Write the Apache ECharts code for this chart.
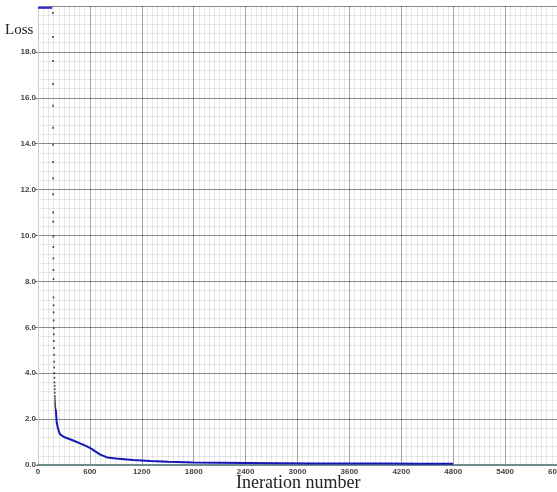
<!DOCTYPE html>
<html>
<head>
<meta charset="utf-8">
<script src="https://cdn.jsdelivr.net/npm/echarts@6/dist/echarts.min.js"></script>
<style>
    html, body { margin: 0; padding: 0; background: #fff; }
    #myChart { width: 557px; height: 492px; }
</style>
</head>
<body>
<div id="myChart"></div>
<script>
// clipped part at the start (loss above the top of the plot)
var topIter = [0, 165];
var topLoss = [19.92, 19.92];

// steep drop, drawn as sparse dots
var dropIter = [172, 172, 173, 173, 173, 174, 174, 174, 175, 175, 176, 176, 177, 177, 178, 178, 179, 179, 180, 180, 181, 182, 183, 184, 185, 186, 187, 188, 189, 190, 191, 192, 193, 194, 195, 196, 197, 198, 199, 200, 202, 204];
var dropLoss = [19.7, 18.65, 17.6, 16.6, 15.65, 14.7, 13.95, 13.2, 12.5, 11.8, 11.0, 10.6, 9.96, 9.5, 9.0, 8.5, 8.1, 7.3, 6.96, 6.65, 6.3, 5.96, 5.7, 5.4, 5.1, 4.8, 4.5, 4.25, 4.0, 3.8, 3.6, 3.45, 3.3, 3.15, 3.0, 2.9, 2.8, 2.7, 2.62, 2.55, 2.48, 2.42];

// main curve
var lossIter = [206, 215, 230, 245, 260, 300, 400, 500, 560, 620, 680, 720, 800, 900, 1000, 1100, 1300, 1500, 1800, 2100, 2400, 2800, 3200, 3600, 4000, 4400, 4800];
var lossVal = [2.4, 1.9, 1.6, 1.42, 1.32, 1.22, 1.08, 0.92, 0.82, 0.7, 0.55, 0.45, 0.33, 0.28, 0.25, 0.22, 0.17, 0.14, 0.11, 0.1, 0.09, 0.08, 0.07, 0.065, 0.06, 0.055, 0.05];

function pairs(xs, ys) {
    var out = [];
    for (var i = 0; i < xs.length; i++) {
        out.push([xs[i], ys[i]]);
    }
    return out;
}

var myChart = echarts.init(document.getElementById('myChart'));

var labelFont = {
    color: '#444',
    fontSize: 8,
    fontWeight: 'bold',
    fontFamily: 'Liberation Sans'
};

var option = {
    animation: false,
    backgroundColor: '#fff',
    grid: {
        left: 38,
        right: 0,
        top: 6,
        bottom: 27,
        outerBoundsMode: 'none',
        containLabel: false
    },
    xAxis: {
        type: 'value',
        min: 0,
        max: 6000,
        interval: 600,
        axisLine: {show: true, lineStyle: {color: '#6f8c8c', width: 2}},
        axisTick: {show: false},
        axisLabel: Object.assign({
            margin: 3,
            formatter: function (v) { return String(v); }
        }, labelFont),
        splitLine: {show: true, lineStyle: {color: 'rgba(0,0,0,0.35)', width: 1}},
        minorTick: {show: false, splitNumber: 10},
        minorSplitLine: {show: true, lineStyle: {color: 'rgba(0,0,0,0.09)', width: 1}}
    },
    yAxis: {
        type: 'value',
        min: 0,
        max: 20,
        interval: 2,
        axisLine: {show: true, lineStyle: {color: '#cfcfcf'}},
        axisTick: {show: true, length: 3, lineStyle: {color: '#777'}},
        axisLabel: Object.assign({
            margin: 2,
            showMaxLabel: false,
            formatter: function (v) { return v.toFixed(1); }
        }, labelFont),
        splitLine: {show: true, lineStyle: {color: 'rgba(0,0,0,0.45)', width: 1}},
        minorTick: {show: false, splitNumber: 5},
        minorSplitLine: {show: true, lineStyle: {color: 'rgba(0,0,0,0.09)', width: 1}}
    },
    graphic: [
        {
            type: 'text',
            left: 5,
            top: 23,
            style: {text: 'Loss', font: '15px "Liberation Serif"', fill: '#222'}
        },
        {
            type: 'text',
            left: 236,
            top: 474,
            style: {text: 'Ineration number', font: '18px "Liberation Serif"', fill: '#222'}
        }
    ],
    series: [
        {
            name: 'top',
            type: 'line',
            data: pairs(topIter, topLoss),
            showSymbol: false,
            lineStyle: {color: '#2a2ad8', width: 2}
        },
        {
            name: 'drop',
            type: 'scatter',
            data: pairs(dropIter, dropLoss),
            symbol: 'rect',
            symbolSize: [1.5, 2],
            itemStyle: {color: '#111'}
        },
        {
            name: 'loss',
            type: 'line',
            data: pairs(lossIter, lossVal),
            showSymbol: false,
            lineStyle: {color: '#1616b8', width: 2}
        }
    ]
};

myChart.setOption(option);
</script>
</body>
</html>
